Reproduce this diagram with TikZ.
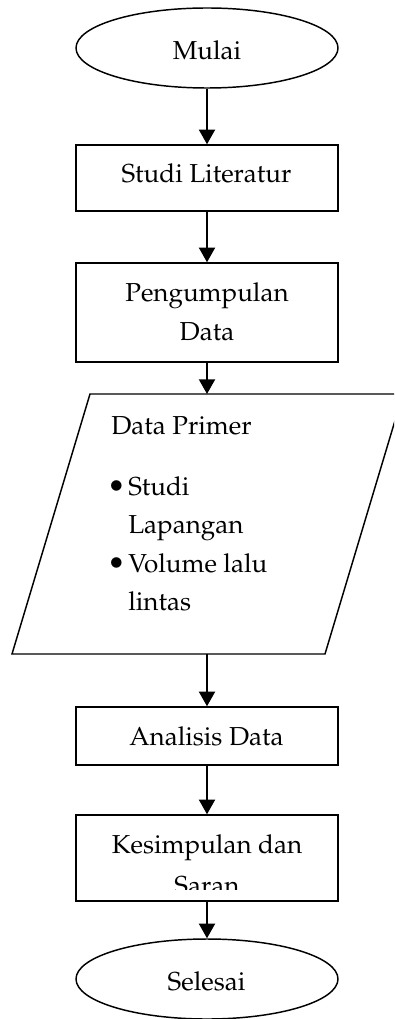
\documentclass[tikz,border=0pt]{standalone}
\usepackage[T1]{fontenc}
\usepackage{mathpazo}
\usetikzlibrary{arrows.meta,shapes.geometric}
\tikzset{
  term/.style={draw,line width=1.1pt,ellipse,minimum width=196.5pt,minimum height=60pt,inner sep=0pt},
  procbox/.style={draw,line width=1.1pt,rectangle,minimum width=196.5pt,inner sep=0pt},
  txt/.style={inner sep=0pt,font=\fontsize{19.5}{28.5}\selectfont},
  bul/.style={inner sep=0pt,font=\fontsize{23}{28.5}\selectfont},
  flow/.style={line width=1.5pt,-{Triangle[width=12pt,length=11pt]}},
  datashape/.style={line width=1.1pt,line join=miter}
}
\begin{document}
\begin{tikzpicture}[x=0.75pt,y=-0.75pt]
\useasboundingbox (0,0) rectangle (394,1019);
\clip (0,0) rectangle (394,1019);
% shapes
\node[term] (mulai) at (207,48) {};
\node[procbox,minimum height=49.5pt] (studi) at (207,178) {};
\node[procbox,minimum height=74.25pt] (kumpul) at (207,312.5) {};
\draw[datashape] (90,394) -- (403,394) -- (325,654) -- (12,654) -- cycle;
\coordinate (ptop) at (207,394);
\coordinate (pbot) at (207,654);
\node[procbox,minimum height=43.5pt] (analisis) at (207,736) {};
\node[procbox,minimum height=64.5pt] (kesimp) at (207,858) {};
\node[term] (selesai) at (207,979) {};
% texts
\node[txt,anchor=base] (tmulai) at (207,60) {Mulai};
\node[txt,anchor=base] (tstudi) at (206.5,183) {Studi Literatur};
\node[txt,anchor=base] (tkumpul1) at (207,302) {Pengumpulan};
\node[txt,anchor=base] (tkumpul2) at (207,340) {Data};
\node[txt,anchor=base west] (tprimer) at (111,434) {Data Primer};
\node[bul,anchor=base] (b1) at (116.5,496) {\textbullet};
\node[txt,anchor=base west] (tl1) at (128,495) {Studi};
\node[txt,anchor=base west] (tl2) at (128,533) {Lapangan};
\node[bul,anchor=base] (b2) at (116.5,573) {\textbullet};
\node[txt,anchor=base west] (tl3) at (128,572) {Volume lalu};
\node[txt,anchor=base west] (tl4) at (128,610) {lintas};
\node[txt,anchor=base] (tanalisis) at (206.5,745) {Analisis Data};
\node[txt,anchor=base] (tkes1) at (207,853) {Kesimpulan dan};
\begin{scope}
\clip (76,815) rectangle (338,889.5);
\node[txt,anchor=base] (tkes2) at (207,894) {Saran};
\end{scope}
\node[txt,anchor=base] (tselesai) at (206.5,990) {Selesai};
% connectors
\draw[flow] (mulai.south) -- (studi.north);
\draw[flow] (studi.south) -- (kumpul.north);
\draw[flow] (kumpul.south) -- (ptop);
\draw[flow] (pbot) -- (analisis.north);
\draw[flow] (analisis.south) -- (kesimp.north);
\draw[flow] (kesimp.south) -- (selesai.north);
\end{tikzpicture}
\end{document}
